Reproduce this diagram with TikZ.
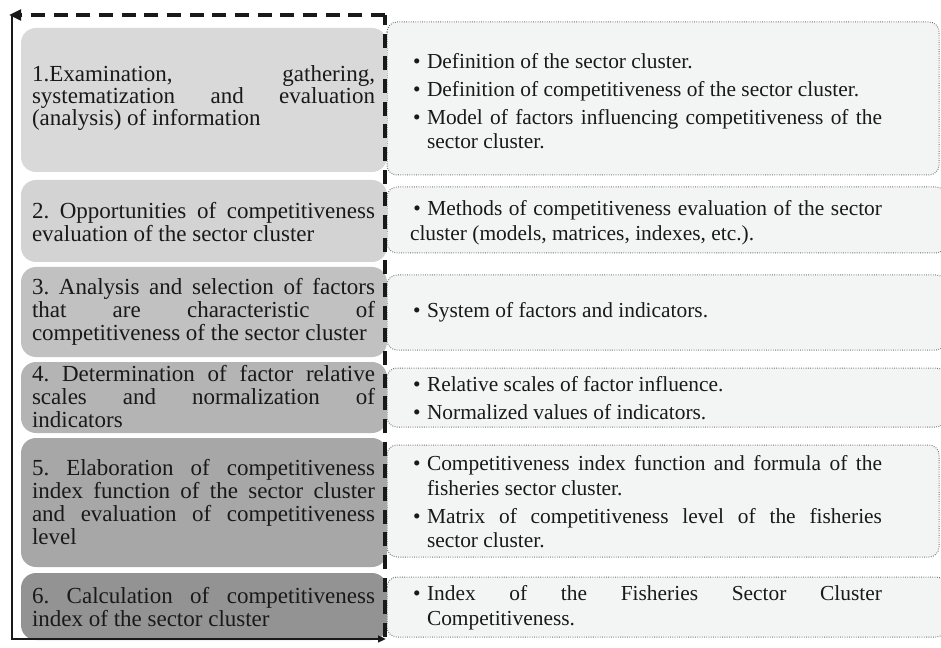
\documentclass[tikz,border=0pt]{standalone}
\usepackage{fontspec}
\setmainfont{Liberation Serif}
\usetikzlibrary{arrows.meta}
\definecolor{lbA}{RGB}{217,217,217}
\definecolor{lbB}{RGB}{211,211,211}
\definecolor{lbC}{RGB}{193,193,193}
\definecolor{lbD}{RGB}{180,180,180}
\definecolor{lbE}{RGB}{167,167,167}
\definecolor{lbF}{RGB}{147,147,147}
\definecolor{rfill}{RGB}{243,244,244}
\definecolor{dotc}{RGB}{110,110,110}
\definecolor{inkc}{RGB}{25,25,25}
\frenchspacing
\newcommand{\lefttext}[2]{\parbox{257.25pt}{\fontsize{17.25pt}{#1}\selectfont\frenchspacing\hyphenpenalty=10000\exhyphenpenalty=10000\tolerance=10000\pretolerance=-1 #2}}
\newcommand{\righttext}[2]{\parbox{#1}{\fontsize{16.05pt}{18.4pt}\selectfont\frenchspacing\setlength{\parskip}{2.6pt}\hyphenpenalty=10000\exhyphenpenalty=10000\tolerance=10000\pretolerance=-1 #2}}
\newcommand{\bul}{\par\noindent\hangindent=10.5pt\hangafter=1\makebox[10.5pt][l]{\textbullet}}
\tikzset{
  lbox/.style={rounded corners=11.25pt},
  rbox/.style={fill=rfill, draw=dotc, line width=0.75pt, dash pattern=on 0.6pt off 1.1pt, rounded corners=7.5pt},
  txt/.style={inner sep=0pt, text=inkc},
  loopdash/.style={line width=2.3pt, dash pattern=on 10.5pt off 6.5pt, color=inkc},
  loopsolid/.style={line width=2pt, color=inkc},
}
\begin{document}
\begin{tikzpicture}[x=0.75pt,y=-0.75pt]
\useasboundingbox (0,0) rectangle (941,648);
\clip (0,0) rectangle (941,648);
% right boxes
\path[rbox] (387,22) rectangle (939,175);
\path[rbox] (387,187) rectangle (946,253);
\path[rbox] (387,275) rectangle (946,350);
\path[rbox] (387,368) rectangle (946,427);
\path[rbox] (387,445) rectangle (939,557);
\path[rbox] (387,577) rectangle (946,637);
% left boxes
\fill[lbox, lbA] (21,28) rectangle (387,172);
\fill[lbox, lbB] (21,180) rectangle (387,262);
\fill[lbox, lbC] (21,267) rectangle (387,357);
\fill[lbox, lbD] (21,362) rectangle (387,433);
\fill[lbox, lbE] (21,438) rectangle (387,567);
\fill[lbox, lbF] (21,573) rectangle (387,640);
% left texts
\node[txt] (s1) at (203.5,98) {\lefttext{15.4pt}{1.Examination, gathering,\linebreak systematization and evaluation\linebreak (analysis) of information}};
\node[txt] (s2) at (203.5,222) {\lefttext{17.25pt}{2. Opportunities of competitiveness\linebreak evaluation of the sector cluster}};
\node[txt] (s3) at (203.5,312) {\lefttext{17.25pt}{3. Analysis and selection of factors\linebreak that are characteristic of\linebreak competitiveness of the sector cluster}};
\node[txt] (s4) at (203.5,397) {\lefttext{17.25pt}{4. Determination of factor relative\linebreak scales and normalization of\linebreak indicators}};
\node[txt] (s5) at (203.5,502) {\lefttext{17.25pt}{5. Elaboration of competitiveness\linebreak index function of the sector cluster\linebreak and evaluation of competitiveness\linebreak level}};
\node[txt] (s6) at (203.5,607) {\lefttext{17.25pt}{6. Calculation of competitiveness\linebreak index of the sector cluster}};
% right texts
\node[txt] (r1) at (647.5,101) {\righttext{351.75pt}{\bul Definition of the sector cluster.\bul Definition of competitiveness of the sector cluster.\bul Model of factors influencing competitiveness of the\linebreak sector cluster.}};
\node[txt] (r2) at (646,223) {\righttext{354pt}{\noindent\hspace{2.5pt}\textbullet\ Methods of competitiveness evaluation of the sector\linebreak cluster (models, matrices, indexes, etc.).}};
\node[txt] (r3) at (647.5,312) {\righttext{351.75pt}{\bul System of factors and indicators.}};
\node[txt] (r4) at (647.5,398) {\righttext{351.75pt}{\bul Relative scales of factor influence.\bul Normalized values of indicators.}};
\node[txt] (r5) at (647.5,502) {\righttext{351.75pt}{\bul Competitiveness index function and formula of the\linebreak fisheries sector cluster.\bul Matrix of competitiveness level of the fisheries\linebreak sector cluster.}};
\node[txt] (r6) at (647.5,608) {\righttext{351.75pt}{\bul Index of the Fisheries Sector Cluster\linebreak Competitiveness.}};
% feedback loop
\coordinate (ctr) at (385,15);
\coordinate (ctl) at (9,15);
\coordinate (cls) at (12,14);
\coordinate (cbl) at (12,639);
\coordinate (cbr) at (386,639);
\coordinate (crb) at (385,637);
\draw[loopdash] (crb) -- (ctr);
\draw[loopdash, -{Triangle[length=9pt,width=8pt,sep=0pt]}] (ctr) -- (ctl);
\draw[loopsolid, -{Triangle[length=6pt,width=5pt]}] (cls) -- (cbl) -- (cbr);
\end{tikzpicture}
\end{document}
